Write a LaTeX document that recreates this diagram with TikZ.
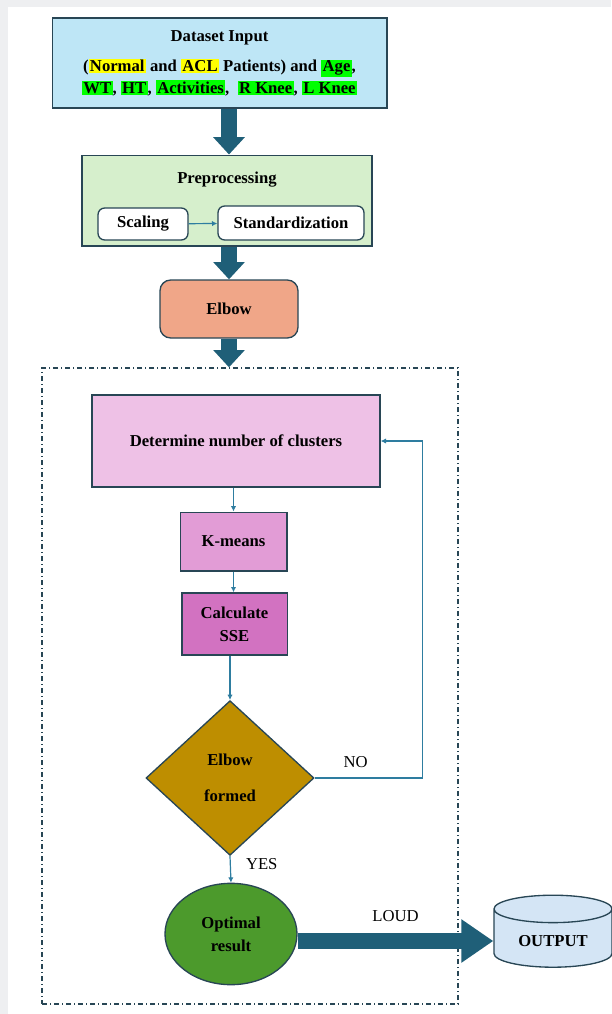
\documentclass[tikz,border=0pt]{standalone}
\usepackage{fontspec}
\setmainfont{Liberation Serif}
\usetikzlibrary{shapes.geometric,arrows.meta}

\definecolor{framegray}{RGB}{238,239,241}
\definecolor{boxline}{RGB}{40,70,85}
\definecolor{datablue}{RGB}{190,230,246}
\definecolor{prepgreen}{RGB}{214,239,204}
\definecolor{elbowsalmon}{RGB}{240,166,136}
\definecolor{detpink}{RGB}{238,193,230}
\definecolor{kmpink}{RGB}{226,156,214}
\definecolor{ssepink}{RGB}{210,114,193}
\definecolor{diagold}{RGB}{190,142,0}
\definecolor{optgreen}{RGB}{76,154,44}
\definecolor{outblue}{RGB}{212,229,245}
\definecolor{bigteal}{RGB}{31,95,120}
\definecolor{thinteal}{RGB}{46,125,160}
\definecolor{hlyellow}{RGB}{255,255,0}
\definecolor{hlgreen}{RGB}{0,255,0}

\newcommand{\hly}[1]{{\setlength{\fboxsep}{1pt}\colorbox{hlyellow}{#1}}}
\newcommand{\hlg}[1]{{\setlength{\fboxsep}{1pt}\colorbox{hlgreen}{#1}}}

\begin{document}
\begin{tikzpicture}[x=0.75pt,y=0.75pt,yscale=-1,xscale=1,
    font=\fontsize{12.5}{16}\selectfont\bfseries,
    box/.style={draw=boxline, line width=1pt, align=center, inner sep=1pt},
    softbox/.style={box, rounded corners=5pt},
    bigarrow/.style={draw=bigteal, line width=12pt, -{Triangle[width=23pt,length=13pt]}},
    thinarrow/.style={draw=thinteal, line width=0.9pt, -{Latex[length=4pt,width=4pt]}},
    plain/.style={font=\fontsize{12.5}{15}\selectfont}]
    %page edge
    \fill[framegray] (0,0) rectangle (611,1014);
    \fill[white] (8,7) rectangle (611,1014);
    \useasboundingbox (0,0) rectangle (611,1014);

    % Dataset input
    \node[box, fill=datablue, minimum width=251pt, minimum height=67.5pt] (data) at (219.5,63)
        {Dataset Input\\[7pt]
         (\hly{Normal} and \hly{ACL} Patients) and \hlg{Age},\\
         \hlg{WT}, \hlg{HT}, \hlg{Activities},\ \ \hlg{R Knee}, \hlg{L Knee}};

    % Preprocessing
    \node[box, fill=prepgreen, minimum width=217.5pt, minimum height=68pt] (prep) at (227,200.5) {};
    \node (preptitle) at (227,180) {Preprocessing};
    \node[softbox, fill=white, minimum width=67.5pt, minimum height=24pt] (scale) at (143,224) {Scaling};
    \node[softbox, fill=white, minimum width=109.5pt, minimum height=25.5pt] (std) at (291,223) {Standardization};
    \draw[thinarrow] (scale) -- (std);

    % Elbow
    \node[softbox, fill=elbowsalmon, rounded corners=8pt, minimum width=103.5pt, minimum height=43.5pt] (elbow) at (229,309) {Elbow};

    % Clustering loop
    \node[draw=boxline, line width=1pt, dash pattern=on 4pt off 2pt on 1pt off 2pt,
        minimum width=312pt, minimum height=477pt] (frame) at (250,686) {};
    \node[box, fill=detpink, minimum width=216pt, minimum height=69pt] (det) at (236,441) {Determine number of clusters};
    \node[box, fill=kmpink, minimum width=80pt, minimum height=44pt] (kmeans) at (233.5,541.5) {K-means};
    \node[box, fill=ssepink, minimum width=79pt, minimum height=46.5pt] (sse) at (234.5,624) {Calculate\\[1pt]SSE};
    \node[diamond, draw=boxline, line width=1pt, fill=diagold, align=center, inner sep=0pt,
        minimum width=126pt, minimum height=116pt] (elbowq) at (230,778) {Elbow\\[11pt]formed};
    \node[ellipse, draw=boxline, line width=1pt, fill=optgreen, align=center, inner sep=0pt,
        minimum width=99pt, minimum height=76pt] (opt) at (231,934) {Optimal\\[1pt]result};

    % Output
    \node[cylinder, shape border rotate=90, aspect=0.35, draw=boxline, line width=1pt, fill=outblue,
        minimum width=88.5pt, minimum height=54pt] (out) at (553,941) {OUTPUT};

    % big arrows
    \draw[bigarrow] (elbow.north |- data.south) -- (elbow.north |- prep.north);
    \draw[bigarrow] (elbow.north |- prep.south) -- (elbow);
    \draw[bigarrow] (elbow) -- (elbow.south |- frame.north);
    \draw[bigarrow, -{Triangle[width=31pt,length=24pt]}] (opt.east |- out.west) -- node[plain, above=5pt]{LOUD} (out.west);

    % thin arrows
    \draw[thinarrow] (kmeans.north |- det.south) -- (kmeans.north);
    \draw[thinarrow] (kmeans) -- (kmeans.south |- sse.north);
    \draw[thinarrow] (sse.south -| elbowq.north) -- (elbowq.north);
    \draw[thinarrow] (elbowq.south) -- node[plain, right=8pt, pos=0.3]{YES} (opt.north);
    \draw[thinarrow] (elbowq.east) -- node[plain, above=4pt, pos=0.38]{NO} ++(108,0) |- (det.east);

\end{tikzpicture}
\end{document}
